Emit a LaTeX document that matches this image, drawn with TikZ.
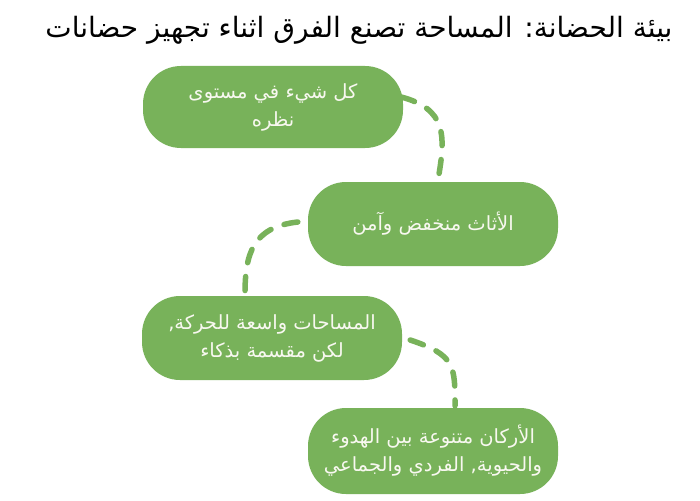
\documentclass[tikz,border=0pt]{standalone}
\usepackage{fontspec}
\usetikzlibrary{calc}
\TeXXeTstate=1
\newfontfamily\arabicfont[Script=Arabic]{DejaVu Sans}
\definecolor{boxgreen}{RGB}{120,178,90}
\definecolor{txtcol}{RGB}{248,248,240}
\tikzset{
  card/.style={fill=boxgreen, draw=none, rounded corners=38pt, minimum width=#1, minimum height=82pt, text=txtcol, align=center, font=\arabicfont\fontsize{19.5}{28}\selectfont, inner sep=0pt},
  conn/.style={draw=boxgreen, line width=5.5pt, line cap=round, dash pattern=on 14pt off 14pt},
  titlefont/.style={font=\arabicfont\fontsize{28}{32}\selectfont, text=black}
}
\begin{document}
\begin{tikzpicture}[x=1pt,y=-1pt]
\useasboundingbox (0,0) rectangle (700,500);
\fill[white] (0,0) rectangle (700,500);
\node[titlefont, anchor=east] (title) at (676,30) {\beginR بيئة الحضانة: المساحة تصنع الفرق اثناء تجهيز حضانات\endR};
\node[card=260pt] (b1) at (273,107) {\beginR كل شيء في مستوى\endR\\\beginR نظره\endR};
\node[card=250pt, minimum height=84pt] (b2) at (433,224) {\beginR الأثاث منخفض وآمن\endR};
\node[card=260pt, minimum height=84pt] (b3) at (272,338) {\beginR المساحات واسعة للحركة,\endR\\\beginR لكن مقسمة بذكاء\endR};
\node[card=250pt, minimum height=86pt] (b4) at (433,451) {\beginR الأركان متنوعة بين الهدوء\endR\\\beginR والحيوية, الفردي والجماعي\endR};
\draw[conn] ($(b1.east)+(-2,-10)$) .. controls +(45,12) and +(8,-45) .. ($(b2.north)+(5,-2)$);
\draw[conn] ($(b2.west)+(-10,-2)$) .. controls +(-45,5) and +(0,-40) .. ($(b3.north)+(-27,-2)$);
\draw[conn] ($(b3.east)+(8,2)$) .. controls +(45,15) and +(0,-40) .. ($(b4.north)+(22,-2)$);
\end{tikzpicture}
\end{document}
